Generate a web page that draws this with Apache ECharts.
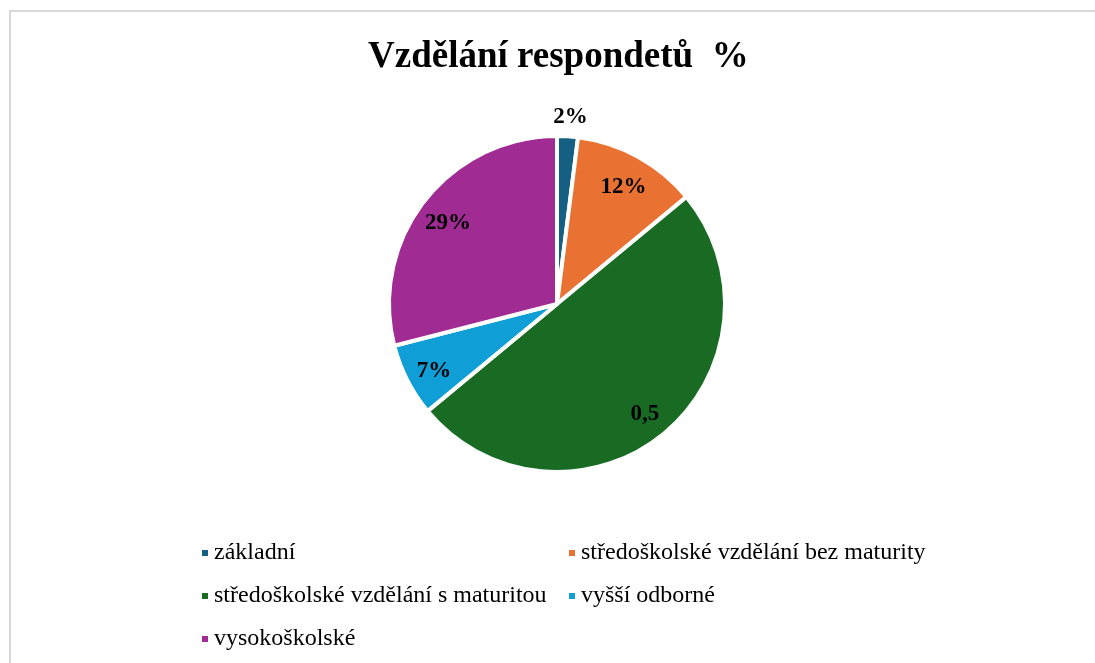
<!DOCTYPE html>
<html>
<head>
<meta charset="utf-8">
<script src="https://cdn.jsdelivr.net/npm/echarts@6/dist/echarts.min.js"></script>
<style>
  html, body { margin: 0; padding: 0; background: #fff; }
  #chart { width: 1095px; height: 663px; }
</style>
</head>
<body>
<div id="chart"></div>
<script>
const categories = [
  'základní',
  'středoškolské vzdělání bez maturity',
  'středoškolské vzdělání s maturitou',
  'vyšší odborné',
  'vysokoškolské'
];
const values = [2, 12, 50, 7, 29];
const valueLabels = ['2%', '12%', '0,5', '7%', '29%'];
const colors = ['#156082', '#E97132', '#196B24', '#0F9ED5', '#A02B93'];

const legendLeft = [categories[0], categories[2], categories[4]];
const legendRight = [categories[1], categories[3]];

const serif = '"Liberation Serif", "DejaVu Serif", serif';

const chart = echarts.init(document.getElementById('chart'));

const legendBase = {
  orient: 'vertical',
  icon: 'rect',
  itemWidth: 8,
  itemHeight: 8,
  itemGap: 15,
  top: 539,
  padding: 0,
  textStyle: { fontFamily: serif, fontSize: 24, color: '#000', lineHeight: 28 }
};

const option = {
  color: colors,
  animation: false,
  title: {
    text: 'Vzdělání respondetů  %',
    left: 368,
    top: 39,
    padding: 0,
    textStyle: { fontFamily: serif, fontSize: 37, fontWeight: 'bold', color: '#000' }
  },
  legend: [
    Object.assign({ left: 200, data: legendLeft }, legendBase),
    Object.assign({ left: 567, data: legendRight }, legendBase)
  ],
  graphic: [{
    type: 'rect',
    silent: true,
    shape: { x: 10, y: 11, width: 1200, height: 800 },
    style: { fill: 'none', stroke: '#d9d9d9', lineWidth: 2 }
  }],
  series: [
    {
      name: 'pie',
      type: 'pie',
      center: [557, 304],
      radius: 168,
      startAngle: 90,
      clockwise: true,
      label: { show: false },
      labelLine: { show: false },
      itemStyle: { borderColor: '#fff', borderWidth: 4 },
      emphasis: { disabled: true },
      data: categories.map((c, i) => ({ name: c, value: values[i] }))
    },
    {
      name: 'labels',
      type: 'pie',
      silent: true,
      center: [557, 308],
      radius: [100, 170],
      startAngle: 90,
      clockwise: true,
      itemStyle: { color: 'rgba(0,0,0,0)' },
      emphasis: { disabled: true },
      label: {
        show: true,
        position: 'inside',
        fontFamily: serif,
        fontSize: 23,
        fontWeight: 'bold',
        color: '#000',
        formatter: p => valueLabels[p.dataIndex]
      },
      labelLine: { show: false, length: 8, length2: 0 },
      labelLayout: p => (p.dataIndex === 0 ? { dx: -20, dy: -13 } : {}),
      data: categories.map((c, i) => ({
        name: c,
        value: values[i],
        label: i === 0 ? { position: 'outside' } : undefined
      }))
    }
  ]
};

chart.setOption(option);
</script>
</body>
</html>
